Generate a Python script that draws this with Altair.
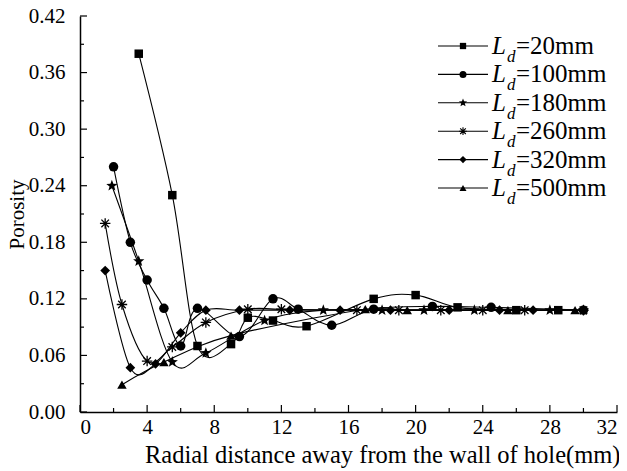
import math
import altair as alt
import pandas as pd

# ---- data ----
series_names = ["Ld=20mm", "Ld=100mm", "Ld=180mm", "Ld=260mm", "Ld=320mm", "Ld=500mm"]
legend_values = ["=20mm", "=100mm", "=180mm", "=260mm", "=320mm", "=500mm"]

x20 = [3.5, 5.5, 7.0, 9.0, 10.0, 11.5, 13.5, 17.5, 20.0, 22.5, 26.0, 28.5]
y20 = [0.380, 0.230, 0.070, 0.072, 0.100, 0.097, 0.091, 0.120, 0.124, 0.111, 0.108, 0.108]

x100 = [2.0, 3.0, 4.0, 5.0, 6.0, 7.0, 9.5, 11.5, 13.0, 15.0, 17.5, 21.0, 24.5, 30.0]
y100 = [0.260, 0.180, 0.140, 0.110, 0.070, 0.110, 0.080, 0.120, 0.109, 0.092, 0.109, 0.112, 0.111, 0.108]

x180 = [1.9, 3.5, 5.5, 7.5, 11.0, 14.5, 18.0, 20.5, 23.5, 28.0, 30.0]
y180 = [0.240, 0.160, 0.053, 0.0625, 0.097, 0.108, 0.108, 0.108, 0.108, 0.108, 0.108]

x260 = [1.5, 2.5, 4.0, 5.5, 7.5, 10.0, 12.0, 16.5, 19.0, 21.5, 24.0, 26.5, 30.0]
y260 = [0.200, 0.114, 0.054, 0.069, 0.095, 0.109, 0.109, 0.108, 0.108, 0.108, 0.108, 0.108, 0.108]

x320 = [1.5, 3.0, 4.5, 6.0, 7.5, 9.5, 12.5, 15.5, 18.5, 22.0, 25.0, 27.0]
y320 = [0.150, 0.047, 0.051, 0.084, 0.108, 0.108, 0.108, 0.108, 0.108, 0.108, 0.108, 0.108]

x500 = [2.5, 5.0, 9.0, 17.0, 19.5, 25.5, 29.5]
y500 = [0.029, 0.053, 0.081, 0.109, 0.108, 0.108, 0.108]

x_ticks_major = [0, 4, 8, 12, 16, 20, 24, 28, 32]
x_ticks_minor = [2, 6, 10, 14, 18, 22, 26, 30]
y_ticks_major = [0.0, 0.06, 0.12, 0.18, 0.24, 0.30, 0.36, 0.42]
y_ticks_minor = [0.03, 0.09, 0.15, 0.21, 0.27, 0.33, 0.39]

xs_all = [x20, x100, x180, x260, x320, x500]
ys_all = [y20, y100, y180, y260, y320, y500]

rows = []
for name, xs, ys in zip(series_names, xs_all, ys_all):
    for xv, yv in zip(xs, ys):
        rows.append({"series": name, "x": xv, "y": yv})
df = pd.DataFrame(rows)

# ---- marker shapes ----
star_pts = []
for k in range(10):
    r = 1.0 if k % 2 == 0 else 0.42
    a = math.radians(-90 + 36 * k)
    star_pts.append(f"{r * math.cos(a):.3f},{r * math.sin(a):.3f}")
STAR = "M" + "L".join(star_pts) + "Z"
ASTER = "M-1,0L1,0M0,-1L0,1M-0.72,-0.72L0.72,0.72M-0.72,0.72L0.72,-0.72"
shape_range = ["square", "circle", STAR, ASTER, "diamond", "triangle-up"]
shape_sizes = [72, 90, 140, 110, 95, 90]

FONT = "Liberation Serif"
W, H = 537, 396

xscale = alt.Scale(domain=[0, 32], nice=False, zero=False)
yscale = alt.Scale(domain=[0, 0.42], nice=False, zero=False)

x_enc = alt.X("x:Q", scale=xscale, axis=alt.Axis(
    values=x_ticks_major, format="d", ticks=False, grid=False,
    domainColor="black", domainWidth=1.5, labelFont=FONT, labelFontSize=21,
    labelColor="black", labelPadding=4, title="Radial distance away from the wall of hole(mm)",
    titleFont=FONT, titleFontSize=24.5, titleFontWeight="normal", titleColor="black",
    titlePadding=6, titleX=W + 3, titleAnchor="end", titleAlign="right"))
y_enc = alt.Y("y:Q", scale=yscale, axis=alt.Axis(
    values=y_ticks_major, format=".2f", ticks=False, grid=False,
    domainColor="black", domainWidth=1.5, labelFont=FONT, labelFontSize=21,
    labelColor="black", labelPadding=15, title="Porosity",
    titleFont=FONT, titleFontSize=21, titleFontWeight="normal", titleColor="black",
    titlePadding=1))

base = alt.Chart(df)
lines = base.mark_line(interpolate="cardinal", color="black", strokeWidth=1.1).encode(
    x=x_enc, y=y_enc, detail="series:N")

layers = [lines]
for i, name in enumerate(series_names):
    filled = shape_range[i] != ASTER
    pts = base.transform_filter(alt.datum.series == name).mark_point(
        filled=filled, color="black", shape=shape_range[i], size=shape_sizes[i],
        strokeWidth=1.3 if not filled else 0, opacity=1).encode(
        x=alt.X("x:Q", scale=xscale), y=alt.Y("y:Q", scale=yscale))
    layers.append(pts)

# inward ticks
tx = pd.DataFrame({"v": x_ticks_major + x_ticks_minor,
                   "len": [7] * len(x_ticks_major) + [4] * len(x_ticks_minor)})
ty = pd.DataFrame({"v": y_ticks_major + y_ticks_minor,
                   "len": [7] * len(y_ticks_major) + [4] * len(y_ticks_minor)})
xt = alt.Chart(tx).transform_calculate(y0=str(H), y1=f"{H} - datum.len").mark_rule(
    color="black", strokeWidth=1.2).encode(
    x=alt.X("v:Q", scale=xscale), y=alt.Y("y0:Q", scale=None), y2="y1:Q")
yt = alt.Chart(ty).transform_calculate(x0="0", x1="datum.len").mark_rule(
    color="black", strokeWidth=1.2).encode(
    y=alt.Y("v:Q", scale=yscale), x=alt.X("x0:Q", scale=None), x2="x1:Q")
layers += [xt, yt]

# legend
leg = pd.DataFrame({"series": series_names, "label": legend_values,
                    "row": list(range(len(series_names)))})
lbase = alt.Chart(leg).transform_calculate(
    ly="30 + datum.row * 28.4", lx0="358", lx1="408", lxm="383",
    lxL="412", lxd="427", lxv="436")
layers.append(lbase.mark_rule(color="black", strokeWidth=1.1).encode(
    x=alt.X("lx0:Q", scale=None), x2="lx1:Q", y=alt.Y("ly:Q", scale=None)))
for i, name in enumerate(series_names):
    filled = shape_range[i] != ASTER
    layers.append(lbase.transform_filter(alt.datum.series == name).mark_point(
        filled=filled, color="black", shape=shape_range[i], size=shape_sizes[i] * 0.55,
        strokeWidth=1.1 if not filled else 0, opacity=1).encode(
        x=alt.X("lxm:Q", scale=None), y=alt.Y("ly:Q", scale=None)))
layers.append(lbase.mark_text(text="L", font=FONT, fontSize=25, fontStyle="italic",
                              align="left", baseline="alphabetic", dy=8, color="black").encode(
    x=alt.X("lxL:Q", scale=None), y=alt.Y("ly:Q", scale=None)))
layers.append(lbase.mark_text(text="d", font=FONT, fontSize=17, fontStyle="italic",
                              align="left", baseline="alphabetic", dy=16, color="black").encode(
    x=alt.X("lxd:Q", scale=None), y=alt.Y("ly:Q", scale=None)))
layers.append(lbase.mark_text(font=FONT, fontSize=25, align="left", baseline="alphabetic",
                              dy=8, color="black").encode(
    x=alt.X("lxv:Q", scale=None), y=alt.Y("ly:Q", scale=None), text="label:N"))

chart = alt.layer(*layers).properties(
    width=W, height=H,
    padding={"left": 72, "top": 8, "right": 2, "bottom": 57},
    autosize=alt.AutoSizeParams(type="none"),
).configure_view(stroke=None)

chart.save("out.html", embed_options={"renderer": "svg", "actions": False})
